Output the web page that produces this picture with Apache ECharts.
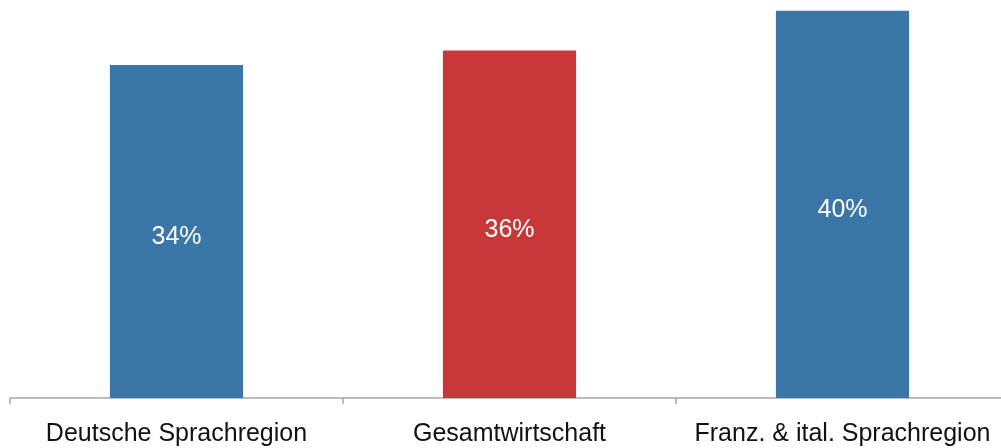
<!DOCTYPE html>
<html>
<head>
<meta charset="utf-8">
<script src="https://cdn.jsdelivr.net/npm/echarts@6/dist/echarts.min.js"></script>
<style>html,body{margin:0;padding:0;background:#fff}#c{width:1001px;height:448px}</style>
</head>
<body>
<div id="c"></div>
<script>
var categories = ["Deutsche Sprachregion", "Gesamtwirtschaft", "Franz. & ital. Sprachregion"];
var values = [34.3, 35.8, 39.9];
var barColors = ["#3a76a8", "#c83838", "#3a76a8"];

var chart = echarts.init(document.getElementById('c'));
chart.setOption({
  animation: false,
  grid: {left: 10, width: 999, top: 0, bottom: 50, containLabel: false, outerBoundsMode: 'none'},
  xAxis: {
    type: 'category',
    data: categories,
    axisLine: {lineStyle: {color: '#a6a6a6', width: 1.5}},
    axisTick: {show: true, length: 6, lineStyle: {color: '#a6a6a6', width: 1.5}},
    axisLabel: {color: '#111', fontSize: 25, fontFamily: 'Liberation Sans', margin: 24, interval: 0, hideOverlap: false}
  },
  yAxis: {type: 'value', min: 0, max: 41, show: false, splitLine: {show: false}},
  series: [{
    type: 'bar',
    barWidth: '40%',
    data: values.map(function (v, i) { return {value: v, itemStyle: {color: barColors[i]}}; }),
    label: {
      show: true, position: 'inside', offset: [0, 6], color: '#fff', fontSize: 25,
      fontFamily: 'Liberation Sans',
      formatter: function (p) { return Math.round(p.value) + '%'; }
    }
  }]
});
</script>
</body>
</html>
